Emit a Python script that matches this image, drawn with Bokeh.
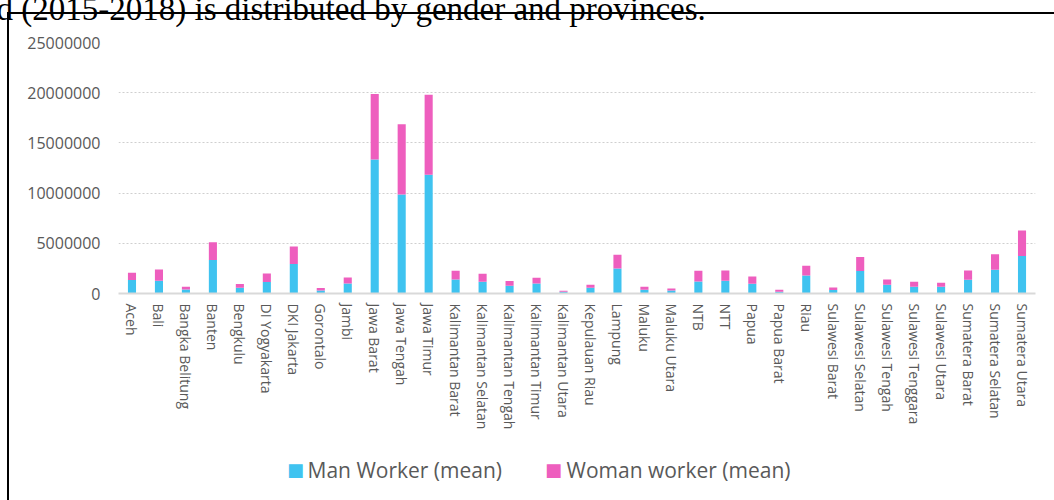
import math

from bokeh.embed import file_html
from bokeh.models import (ColumnDataSource, FactorRange, FixedTicker, InlineStyleSheet,
                          Label, NumeralTickFormatter, Range1d)
from bokeh.plotting import figure
from bokeh.resources import INLINE

provinces = [
    "Aceh", "Bali", "Bangka Belitung", "Banten", "Bengkulu", "DI Yogyakarta",
    "DKI Jakarta", "Gorontalo", "Jambi", "Jawa Barat", "Jawa Tengah", "Jawa Timur",
    "Kalimantan Barat", "Kalimantan Selatan", "Kalimantan Tengah", "Kalimantan Timur",
    "Kalimantan Utara", "Kepulauan Riau", "Lampung", "Maluku", "Maluku Utara", "NTB",
    "NTT", "Papua", "Papua Barat", "Riau", "Sulawesi Barat", "Sulawesi Selatan",
    "Sulawesi Tengah", "Sulawesi Tenggara", "Sulawesi Utara", "Sumatera Barat",
    "Sumatera Selatan", "Sumatera Utara",
]

man_worker = [
    1340000, 1270000, 400000, 3340000, 570000, 1140000,
    2940000, 300000, 1000000, 13340000, 9870000, 11840000,
    1400000, 1170000, 770000, 1000000,
    170000, 570000, 2500000, 370000, 300000, 1200000,
    1270000, 970000, 170000, 1800000, 340000, 2240000,
    870000, 670000, 670000, 1370000,
    2370000, 3740000,
]

woman_worker = [
    730000, 1130000, 270000, 1760000, 370000, 860000,
    1730000, 240000, 600000, 6530000, 7000000, 7960000,
    870000, 800000, 470000, 570000,
    100000, 300000, 1370000, 300000, 200000, 1070000,
    1030000, 730000, 200000, 970000, 260000, 1400000,
    530000, 500000, 400000, 930000,
    1530000, 2530000,
]

y_ticks = [0, 5000000, 10000000, 15000000, 20000000, 25000000]
series_labels = ["Man Worker (mean)", "Woman worker (mean)"]
series_colors = ["#3fc3f0", "#ee5ebe"]
caption = "d (2015-2018) is distributed by gender and provinces."

source = ColumnDataSource(dict(province=provinces, man=man_worker, woman=woman_worker))

p = figure(
    width=1054, height=500,
    x_range=FactorRange(*provinces, range_padding=0),
    y_range=Range1d(0, 25000000),
    output_backend="svg", toolbar_location=None, title=None,
    min_border_left=118, min_border_right=19,
    min_border_top=42, min_border_bottom=207,
)
p.outline_line_color = None
p.background_fill_color = "white"
p.border_fill_color = "white"

# thin black box framing the chart (left and top edges fall inside the page)
p.stylesheets = [InlineStyleSheet(css="""
:host { position: relative; overflow: hidden; }
:host::after {
  content: ""; position: absolute; left: 7px; top: 12px;
  width: 2000px; height: 2000px; z-index: 10; pointer-events: none;
  border-left: 2px solid #000; border-top: 2px solid #000;
}
""")]

p.vbar_stack(["man", "woman"], x="province", width=0.3, source=source,
             color=series_colors, line_width=0)

# axes
label_color = "#595959"
p.yaxis.ticker = FixedTicker(ticks=y_ticks)
p.yaxis.formatter = NumeralTickFormatter(format="0")
p.yaxis.axis_line_color = None
p.yaxis.major_tick_line_color = None
p.yaxis.minor_tick_line_color = None
p.yaxis.major_tick_out = 0
p.yaxis.major_tick_in = 0
p.yaxis.major_label_standoff = 18
p.yaxis.major_label_text_font = "Open Sans"
p.yaxis.major_label_text_font_size = "16px"
p.yaxis.major_label_text_color = label_color

p.xaxis.axis_line_color = "#d9d9d9"
p.xaxis.axis_line_width = 2
p.xaxis.major_tick_line_color = None
p.xaxis.major_tick_out = 0
p.xaxis.major_tick_in = 0
p.xaxis.major_label_standoff = 10
p.xaxis.major_label_orientation = -math.pi / 2
p.xaxis.major_label_text_font = "Open Sans"
p.xaxis.major_label_text_font_size = "14px"
p.xaxis.major_label_text_color = label_color

p.xgrid.grid_line_color = None
p.ygrid.grid_line_color = "#cfcfcf"
p.ygrid.grid_line_dash = "2 2"
p.ygrid.grid_line_width = 1

# series key under the category labels: one colour swatch sits in the left
# margin panel, the other in the right one, the names in the bottom panels
key_y = -176          # key row, measured from the plot area's bottom edge
swatch_side = ["left", "right"]
swatch_x = [288, -482]
name_x = [189, 448]
name_y = [-9, 19]
for i in range(2):
    p.add_layout(Label(x=swatch_x[i], y=key_y, x_units="screen", y_units="screen",
                       text="\u25a0", text_font="DejaVu Sans", text_font_size="18px",
                       text_color=series_colors[i], text_align="center",
                       text_baseline="middle"), swatch_side[i])
for i in range(2):
    p.add_layout(Label(x=name_x[i], y=name_y[i], x_units="screen", y_units="screen",
                       text=series_labels[i], text_font="Open Sans",
                       text_font_size="21px", text_color=label_color,
                       text_baseline="middle"), "below")

# caption line above the box, its upper half running off the page
p.add_layout(Label(x=-122, y=34, x_units="screen", y_units="screen", text=caption,
                   text_font="Liberation Serif", text_font_size="33px",
                   text_color="black", text_baseline="alphabetic"), "above")

open("out.html", "w").write(file_html(p, INLINE))
